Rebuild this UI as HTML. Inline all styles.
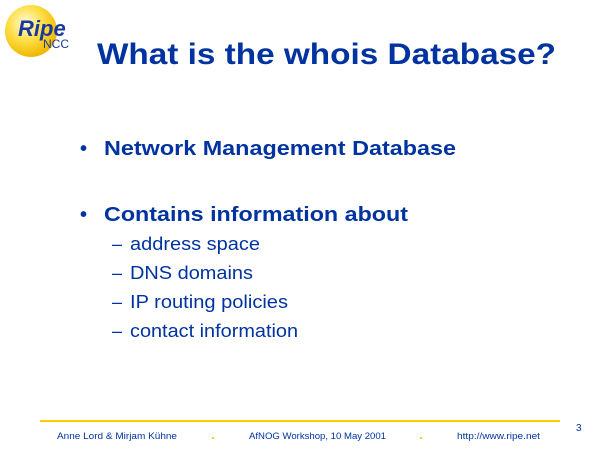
<!DOCTYPE html>
<html><head><style>html,body{margin:0;padding:0;background:#fff}</style></head>
<body>
<svg width="600" height="450" xmlns="http://www.w3.org/2000/svg" font-family="Liberation Sans, Arial, sans-serif">
<defs>
<radialGradient id="g" cx="0.4" cy="0.35" r="0.65">
<stop offset="0" stop-color="#fffbe0"/><stop offset="0.5" stop-color="#ffe04a"/><stop offset="1" stop-color="#f0b800"/>
</radialGradient>
</defs>
<circle cx="31" cy="31" r="26" fill="url(#g)"/>
<text x="18" y="36" font-size="22" font-weight="bold" font-style="italic" fill="#1a3a9a">Ripe</text>
<text x="43" y="48" font-size="12" fill="#1a3a9a">NCC</text>
<text x="97" y="64" font-size="30" font-weight="bold" fill="#0033a0" textLength="459" lengthAdjust="spacingAndGlyphs">What is the whois Database?</text>
<g fill="#0033a0">
<text x="80" y="155" font-size="20" font-weight="bold">•</text>
<text x="104" y="155" font-size="20" font-weight="bold" textLength="352" lengthAdjust="spacingAndGlyphs">Network Management Database</text>
<text x="80" y="221" font-size="20" font-weight="bold">•</text>
<text x="104" y="221" font-size="20" font-weight="bold" textLength="304" lengthAdjust="spacingAndGlyphs">Contains information about</text>
<g font-size="18">
<text x="112" y="250">–</text><text x="130" y="250" textLength="130" lengthAdjust="spacingAndGlyphs">address space</text>
<text x="112" y="279">–</text><text x="130" y="279" textLength="123" lengthAdjust="spacingAndGlyphs">DNS domains</text>
<text x="112" y="308">–</text><text x="130" y="308" textLength="158" lengthAdjust="spacingAndGlyphs">IP routing policies</text>
<text x="112" y="337">–</text><text x="130" y="337" textLength="168" lengthAdjust="spacingAndGlyphs">contact information</text>
</g>
<g font-size="9">
<text x="57" y="439" textLength="120" lengthAdjust="spacingAndGlyphs">Anne Lord &amp; Mirjam Kühne</text>
<text x="249" y="439" textLength="137" lengthAdjust="spacingAndGlyphs">AfNOG Workshop, 10 May 2001</text>
<text x="457" y="439" textLength="83" lengthAdjust="spacingAndGlyphs">http://www.ripe.net</text>
<text x="576" y="431" font-size="10">3</text>
</g>
</g>
<rect x="40" y="420" width="520" height="2" fill="#ffcc00"/>
<rect x="212" y="437" width="2" height="2" fill="#ffcc00"/>
<rect x="420" y="437" width="2" height="2" fill="#ffcc00"/>
</svg>
</body></html>
